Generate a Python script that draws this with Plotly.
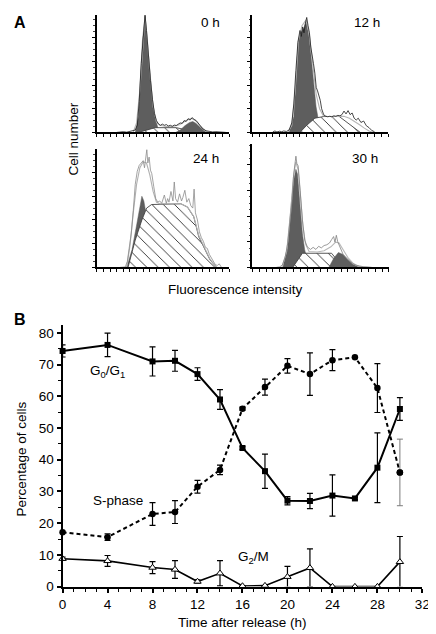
import plotly.graph_objects as go

W, H = 436, 634
FONT = "Liberation Sans, Arial, Helvetica, sans-serif"

# ---------------- Panel B data ----------------
time_h = [0, 4, 8, 10, 12, 14, 16, 18, 20, 22, 24, 26, 28, 30]
g0g1 = [74.3, 76.2, 71.0, 71.2, 67.0, 59.0, 43.7, 36.4, 27.1, 27.0, 28.7, 27.8, 37.5, 56.0]
g0g1_err = [1.9, 3.7, 4.6, 3.3, 2.0, 3.1, 0.4, 5.4, 1.3, 2.4, 6.5, 0.4, 11.0, 3.6]
sphase = [17.1, 15.6, 22.9, 23.5, 31.5, 36.8, 56.1, 62.9, 69.6, 67.0, 71.4, 72.3, 62.6, 36.0]
sphase_err = [0.0, 1.0, 3.6, 3.6, 2.0, 1.5, 0.5, 2.5, 2.3, 6.7, 3.3, 0.0, 7.7, 10.5]
g2m = [8.8, 8.1, 6.0, 5.4, 1.6, 4.2, 0.2, 0.3, 3.1, 5.9, 0.0, 0.0, 0.0, 7.8]
g2m_err = [0.5, 1.7, 1.9, 2.8, 0.5, 4.0, 0.0, 0.0, 3.3, 6.0, 0.0, 0.0, 0.0, 8.0]
x_ticks_b = [0, 4, 8, 12, 16, 20, 24, 28, 32]
y_ticks_b = [0, 10, 20, 30, 40, 50, 60, 70, 80]

# ---------------- Panel A data (flow cytometry histograms) ----------------
# 0 h
h0_raw_x = [3.0, 3.5, 4.0, 4.5, 5.0, 5.5, 5.8, 6.1, 6.4, 6.7, 7.0, 7.28, 7.5, 7.8, 8.1, 8.4, 8.7, 9.0,
            9.3, 9.6, 9.9, 10.2, 10.5, 10.8, 11.1, 11.4, 11.7, 12.0, 12.3, 12.6, 12.9, 13.2, 13.5,
            13.8, 14.1, 14.4, 14.7, 15.0, 15.3, 15.6, 16.0, 16.5, 17.0, 17.5, 18.0, 18.5, 19.0, 19.5]
h0_raw_y = [0.0, 0.02, 0.03, 0.01, 0.04, 0.05, 0.1, 0.3, 1.3, 2.9, 4.2, 4.95, 4.3, 3.1, 2.2, 1.4, 0.8, 0.5,
            0.36, 0.3, 0.35, 0.3, 0.33, 0.27, 0.3, 0.26, 0.31, 0.29, 0.36, 0.4, 0.38, 0.5, 0.46,
            0.58, 0.52, 0.62, 0.55, 0.5, 0.4, 0.28, 0.15, 0.07, 0.04, 0.02, 0.03, 0.01, 0.02, 0.0]
h0_fit_x = [5.5, 6.0, 6.5, 7.0, 7.28, 7.6, 8.0, 8.5, 9.0, 9.5, 10.5, 11.5, 12.5, 13.5, 14.3, 15.0, 15.7, 16.5, 17.0]
h0_fit_y = [0.02, 0.4, 1.8, 4.1, 4.9, 4.0, 2.5, 1.1, 0.45, 0.3, 0.25, 0.25, 0.32, 0.5, 0.6, 0.48, 0.25, 0.05, 0.0]
h0_g1_x = [5.8, 6.3, 6.55, 6.88, 7.28, 7.62, 8.0, 8.4, 8.75, 9.24, 9.6]
h0_g1_y = [0.0, 0.67, 2.05, 3.86, 4.9, 3.86, 2.47, 1.36, 0.67, 0.18, 0.0]
h0_s_x = [6.3, 7.5, 8.8, 12.0, 13.5, 15.2]
h0_s_y = [0.0, 0.1, 0.2, 0.2, 0.12, 0.0]
h0_g2_x = [11.9, 12.6, 13.3, 14.0, 14.5, 15.0, 15.6, 16.2, 16.7]
h0_g2_y = [0.0, 0.1, 0.28, 0.42, 0.46, 0.38, 0.22, 0.07, 0.0]

# 12 h
h12_raw_x = [3.0, 3.3, 3.6, 4.0, 4.3, 4.6, 5.0, 5.4, 5.8, 6.1, 6.4, 6.7, 7.0, 7.2, 7.4, 7.6, 7.8, 8.0,
             8.2, 8.4, 8.6, 8.8, 9.0, 9.2, 9.4, 9.6, 9.8, 10.0, 10.2, 10.5, 10.8, 11.1, 11.4, 11.7,
             12.0, 12.3, 12.6, 12.9, 13.2, 13.5, 13.8, 14.1, 14.4, 14.7, 15.0, 15.3, 15.6, 16.0,
             16.4, 16.8, 17.2, 17.6, 18.0]
h12_raw_y = [0.02, 0.06, 0.02, 0.05, 0.03, 0.06, 0.04, 0.1, 0.4, 1.2, 2.6, 3.8, 4.3, 4.05, 4.45, 4.2, 4.6, 4.85,
             4.5, 4.2, 3.6, 3.3, 2.9, 2.5, 1.9, 1.75, 1.55, 1.35, 1.0, 0.75, 0.68, 0.66, 0.68, 0.66,
             0.7, 0.68, 0.72, 0.7, 0.75, 0.9, 0.78, 0.92, 0.75, 0.82, 0.6, 0.52, 0.6, 0.42,
             0.48, 0.28, 0.2, 0.08, 0.03]
h12_fit_x = [5.2, 5.8, 6.3, 6.8, 7.3, 7.9, 8.4, 8.9, 9.4, 9.9, 10.4, 11.0, 12.0, 12.8, 13.5, 14.3, 15.0, 15.8, 16.5, 17.2, 17.8]
h12_fit_y = [0.0, 0.3, 1.8, 3.9, 4.5, 4.75, 4.1, 2.9, 1.6, 1.0, 0.72, 0.67, 0.67, 0.67, 0.68, 0.6, 0.48, 0.32, 0.18, 0.06, 0.0]
h12_g1_x = [5.4, 6.1, 6.46, 6.75, 7.08, 7.56, 7.95, 8.28, 8.66, 9.0, 9.38, 9.8, 10.3]
h12_g1_y = [0.0, 0.67, 2.47, 3.86, 4.2, 4.4, 4.7, 4.14, 3.17, 2.06, 1.08, 0.4, 0.0]
h12_s_x = [7.0, 8.0, 9.2, 10.5, 12.8, 14.5, 15.9]
h12_s_y = [0.0, 0.3, 0.6, 0.67, 0.67, 0.3, 0.0]
h12_g2_x = []
h12_g2_y = []

# 24 h
h24_raw_x = [3.5, 4.0, 4.3, 4.6, 4.9, 5.2, 5.5, 5.8, 6.1, 6.4, 6.7, 7.0, 7.2, 7.4, 7.55, 7.7, 7.9, 8.1,
             8.3, 8.6, 8.9, 9.2, 9.5, 9.8, 10.0, 10.2, 10.5, 10.7, 10.9, 11.2, 11.5, 11.7, 11.9,
             12.2, 12.5, 12.8, 13.0, 13.3, 13.6, 13.9, 14.2, 14.5, 14.7, 14.9, 15.2, 15.5, 15.8,
             16.1, 16.4, 16.7, 17.0, 17.3, 17.6, 17.9, 18.2, 18.5, 18.8]
h24_raw_y = [0.0, 0.03, 0.02, 0.25, 0.85, 1.45, 2.4, 3.5, 4.05, 4.3, 4.4, 4.5, 4.2, 4.6, 4.97, 4.4, 4.65, 4.1,
             3.95, 3.4, 2.9, 2.75, 2.8, 2.7, 2.85, 3.05, 2.7, 2.9, 2.75, 3.2, 2.8, 3.6, 2.9,
             2.75, 3.1, 2.8, 2.95, 3.25, 2.75, 2.9, 2.6, 2.5, 3.3, 2.3, 2.0, 1.5, 1.25,
             1.1, 0.85, 0.8, 0.55, 0.4, 0.3, 0.12, 0.08, 0.15, 0.02]
h24_fit_x = [4.5, 5.0, 5.5, 6.0, 6.5, 7.0, 7.5, 8.0, 8.5, 9.0, 9.5, 12.7, 13.7, 14.65, 15.4, 16.4, 17.1, 18.1]
h24_fit_y = [0.0, 0.9, 2.3, 3.5, 4.2, 4.45, 4.4, 3.9, 3.2, 2.75, 2.68, 2.68, 2.55, 2.15, 1.35, 0.78, 0.35, 0.0]
h24_g1_x = [4.5, 5.31, 6.05, 6.54, 6.8, 7.1, 7.6, 8.2, 8.8]
h24_g1_y = [0.0, 0.74, 1.85, 2.68, 3.0, 2.8, 2.0, 0.9, 0.0]
h24_s_x = [4.7, 5.8, 6.8, 7.52, 8.27, 12.7, 13.7, 14.65, 15.4, 16.4, 17.1, 18.1]
h24_s_y = [0.0, 1.15, 2.0, 2.5, 2.65, 2.68, 2.54, 2.13, 1.29, 0.74, 0.32, 0.0]
h24_g2_x = []
h24_g2_y = []

# 30 h
h30_raw_x = [3.5, 4.0, 4.4, 4.8, 5.17, 5.5, 5.8, 6.03, 6.2, 6.37, 6.5, 6.7, 6.99, 7.32, 7.66, 8.04, 8.5,
             8.9, 9.3, 9.7, 10.1, 10.5, 10.9, 11.3, 11.6, 11.9, 12.1, 12.3, 12.5, 12.8, 13.3, 13.7,
             14.0, 14.4, 14.7, 15.2, 15.7, 16.2, 16.8, 17.5]
h30_raw_y = [0.0, 0.02, 0.1, 0.4, 0.94, 1.7, 2.6, 3.6, 3.9, 4.33, 4.05, 3.95, 3.0, 1.85, 1.06, 0.8, 0.7,
             0.78, 0.7, 0.82, 0.76, 0.85, 0.88, 0.95, 1.08, 1.2, 0.98, 1.25, 1.0, 0.82, 0.5, 0.38,
             0.3, 0.2, 0.15, 0.08, 0.05, 0.03, 0.02, 0.0]
h30_fit_x = [4.3, 5.0, 5.6, 6.0, 6.35, 6.7, 7.0, 7.4, 7.8, 8.3, 9.5, 10.5, 11.5, 12.2, 12.7, 13.3, 14.0, 14.8, 15.6, 16.2]
h30_fit_y = [0.0, 0.6, 2.2, 3.5, 4.1, 3.8, 2.9, 1.6, 0.9, 0.62, 0.6, 0.65, 0.8, 0.98, 0.95, 0.7, 0.38, 0.15, 0.04, 0.0]
h30_g1_x = [4.45, 5.17, 5.65, 6.03, 6.37, 6.61, 6.99, 7.32, 7.66, 8.04, 8.52]
h30_g1_y = [0.0, 0.81, 2.35, 3.37, 3.82, 3.63, 2.35, 1.32, 0.68, 0.29, 0.0]
h30_s_x = [5.9, 7.32, 11.6, 13.3]
h30_s_y = [0.0, 0.55, 0.55, 0.0]
h30_g2_x = [11.2, 11.9, 12.6, 13.3, 14.0, 14.7, 15.4, 15.9]
h30_g2_y = [0.0, 0.35, 0.58, 0.5, 0.3, 0.12, 0.03, 0.0]

panel_labels = ["0 h", "12 h", "24 h", "30 h"]

# ---------------- Layout helpers ----------------
def px_x(p):
    return p / W

def px_y(p):
    return 1 - p / H

# pixel boxes for panel A: (left, right, top, bottom, y-top-value)
boxes = [
    (87.3, 223.3, 6.7, 126.0, 4.97),
    (247.3, 386.7, 6.7, 126.0, 4.97),
    (87.3, 223.3, 143.3, 262.7, 4.97),
    (247.3, 387.5, 137.3, 262.7, 4.82),
]
label_pos = [(204, 15), (365, 15), (200, 152), (363, 152)]

hist = [
    (h0_raw_x, h0_raw_y, h0_fit_x, h0_fit_y, h0_g1_x, h0_g1_y, h0_s_x, h0_s_y, h0_g2_x, h0_g2_y, "#1a1a1a", "#b5b5b5"),
    (h12_raw_x, h12_raw_y, h12_fit_x, h12_fit_y, h12_g1_x, h12_g1_y, h12_s_x, h12_s_y, h12_g2_x, h12_g2_y, "#1a1a1a", "#b5b5b5"),
    (h24_raw_x, h24_raw_y, h24_fit_x, h24_fit_y, h24_g1_x, h24_g1_y, h24_s_x, h24_s_y, h24_g2_x, h24_g2_y, "#8c8c8c", "#b0b0b0"),
    (h30_raw_x, h30_raw_y, h30_fit_x, h30_fit_y, h30_g1_x, h30_g1_y, h30_s_x, h30_s_y, h30_g2_x, h30_g2_y, "#808080", "#b8b8b8"),
]

DARK = "#5e5e5e"
fig = go.Figure()
layout_axes = {}
annotations = []

for i, (box, h) in enumerate(zip(boxes, hist)):
    n = i + 2
    xa, ya = f"x{n}", f"y{n}"
    rx, ry, fx, fy, g1x, g1y, sx, sy, g2x, g2y, rawc, fitc = h
    fig.add_trace(go.Scatter(x=g1x, y=g1y, xaxis=xa, yaxis=ya, mode="lines", fill="tozeroy",
                             fillcolor=DARK, line=dict(color=DARK, width=0.5), showlegend=False))
    fig.add_trace(go.Scatter(x=sx, y=sy, xaxis=xa, yaxis=ya, mode="lines", fill="tozeroy",
                             fillcolor="white",
                             fillpattern=dict(shape="\\", fgcolor="#111111", bgcolor="white",
                                              fgopacity=1, size=8, solidity=0.1),
                             line=dict(color="#444444", width=0.9), showlegend=False))
    if len(g2x):
        fig.add_trace(go.Scatter(x=g2x, y=g2y, xaxis=xa, yaxis=ya, mode="lines", fill="tozeroy",
                                 fillcolor=DARK, line=dict(color=DARK, width=0.5), showlegend=False))
    fig.add_trace(go.Scatter(x=fx, y=fy, xaxis=xa, yaxis=ya, mode="lines",
                             line=dict(color=fitc, width=1.1), showlegend=False))
    fig.add_trace(go.Scatter(x=rx, y=ry, xaxis=xa, yaxis=ya, mode="lines",
                             line=dict(color=rawc, width=0.8), showlegend=False))
    l, r, t, b, ymax = box
    layout_axes[f"xaxis{n}"] = dict(
        domain=[px_x(l), px_x(r)], range=[0, 20], anchor=ya, showline=True, linewidth=2,
        linecolor="black", ticks="outside", dtick=1, tick0=0, ticklen=2.5, tickwidth=1,
        tickcolor="black", showticklabels=False, showgrid=False, zeroline=False, fixedrange=True)
    layout_axes[f"yaxis{n}"] = dict(
        domain=[px_y(b), px_y(t)], range=[0, ymax], anchor=xa, showline=True, linewidth=2,
        linecolor="black", ticks="outside", dtick=1, tick0=0, ticklen=3, tickwidth=1,
        tickcolor="black", showticklabels=False, showgrid=False, zeroline=False,
        minor=dict(dtick=0.25, ticks="outside", ticklen=1.5, tickcolor="#444444", tickwidth=0.8),
        fixedrange=True)
    lx, ly = label_pos[i]
    annotations.append(dict(text=panel_labels[i], x=px_x(lx), y=px_y(ly), xref="paper", yref="paper",
                            showarrow=False, xanchor="center", yanchor="middle",
                            font=dict(size=13.5, color="black", family=FONT)))

# ---------------- Panel B traces ----------------
err_style = dict(type="data", visible=True, thickness=1.2, width=3, color="black")

fig.add_trace(go.Scatter(x=time_h, y=g0g1, mode="lines+markers", xaxis="x", yaxis="y",
                         line=dict(color="black", width=2),
                         marker=dict(symbol="square", size=6, color="black"),
                         error_y=dict(array=list(g0g1_err), **err_style),
                         cliponaxis=False, showlegend=False))

s_err_main = list(sphase_err[:-1]) + [0.0]
fig.add_trace(go.Scatter(x=time_h, y=sphase, mode="lines+markers", xaxis="x", yaxis="y",
                         line=dict(color="black", width=2, dash="4px,3px"),
                         marker=dict(symbol="circle", size=6.5, color="black"),
                         error_y=dict(array=s_err_main, **err_style),
                         cliponaxis=False, showlegend=False))
fig.add_trace(go.Scatter(x=time_h[-1:], y=sphase[-1:], mode="markers", xaxis="x", yaxis="y",
                         marker=dict(symbol="circle", size=6.5, color="black"),
                         error_y=dict(type="data", array=sphase_err[-1:], thickness=1, width=3,
                                      color="#7a7a7a"),
                         cliponaxis=False, showlegend=False))

fig.add_trace(go.Scatter(x=time_h, y=g2m, mode="lines+markers", xaxis="x", yaxis="y",
                         line=dict(color="black", width=1.6),
                         marker=dict(symbol="triangle-up", size=6.5, color="white",
                                     line=dict(color="black", width=1)),
                         error_y=dict(array=g2m_err, **err_style),
                         cliponaxis=False, showlegend=False))

tickfont = dict(size=13.5, color="black", family=FONT)
layout_axes["xaxis"] = dict(
    domain=[px_x(52), px_x(422)], range=[0, 32], anchor="y", showline=True, linewidth=2,
    linecolor="black", ticks="outside", tickvals=x_ticks_b, ticktext=[str(v) for v in x_ticks_b],
    ticklen=4, tickwidth=1.5, tickcolor="black", tickfont=tickfont,
    minor=dict(dtick=1, tick0=0, ticks="outside", ticklen=3, tickcolor="black", tickwidth=1.2),
    showgrid=False, zeroline=False, fixedrange=True)
layout_axes["yaxis"] = dict(
    domain=[px_y(586), px_y(321)], range=[0, 82.5], anchor="x", showline=True, linewidth=2,
    linecolor="black", ticks="outside", tickvals=y_ticks_b, ticktext=[str(v) for v in y_ticks_b],
    ticklen=4, tickwidth=1.5, tickcolor="black", tickfont=tickfont,
    minor=dict(dtick=5, tick0=0, ticks="outside", ticklen=3, tickcolor="black", tickwidth=1.2),
    showgrid=False, zeroline=False, fixedrange=True)

txt = dict(size=13.5, color="black", family=FONT)
annotations += [
    dict(text="<b>A</b>", x=px_x(8), y=px_y(15), xref="paper", yref="paper", showarrow=False,
         xanchor="center", yanchor="middle", font=dict(size=16, color="black", family=FONT)),
    dict(text="<b>B</b>", x=px_x(8.5), y=px_y(315), xref="paper", yref="paper", showarrow=False,
         xanchor="center", yanchor="middle", font=dict(size=16, color="black", family=FONT)),
    dict(text="Cell number", x=px_x(63), y=px_y(133), xref="paper", yref="paper", showarrow=False,
         textangle=-90, xanchor="center", yanchor="middle", font=txt),
    dict(text="Fluorescence intensity", x=px_x(230), y=px_y(285), xref="paper", yref="paper",
         showarrow=False, xanchor="center", yanchor="middle", font=txt),
    dict(text="Percentage of cells", x=px_x(9.5), y=px_y(457), xref="paper", yref="paper",
         showarrow=False, textangle=-90, xanchor="center", yanchor="middle", font=txt),
    dict(text="Time after release (h)", x=px_x(237), y=px_y(622), xref="paper", yref="paper",
         showarrow=False, xanchor="center", yanchor="middle", font=txt),
    dict(text="G<sub>0</sub>/G<sub>1</sub>", x=4.0, y=67.9, xref="x", yref="y", showarrow=False,
         xanchor="center", yanchor="middle", font=txt),
    dict(text="S-phase", x=4.9, y=27.0, xref="x", yref="y", showarrow=False,
         xanchor="center", yanchor="middle", font=txt),
    dict(text="G<sub>2</sub>/M", x=16.95, y=9.1, xref="x", yref="y", showarrow=False,
         xanchor="center", yanchor="middle", font=txt),
]

fig.update_layout(
    width=W, height=H, margin=dict(l=0, r=0, t=0, b=0),
    paper_bgcolor="white", plot_bgcolor="white",
    font=dict(family=FONT, color="black"),
    annotations=annotations, showlegend=False,
    **layout_axes,
)

fig.write_html("out.html")
